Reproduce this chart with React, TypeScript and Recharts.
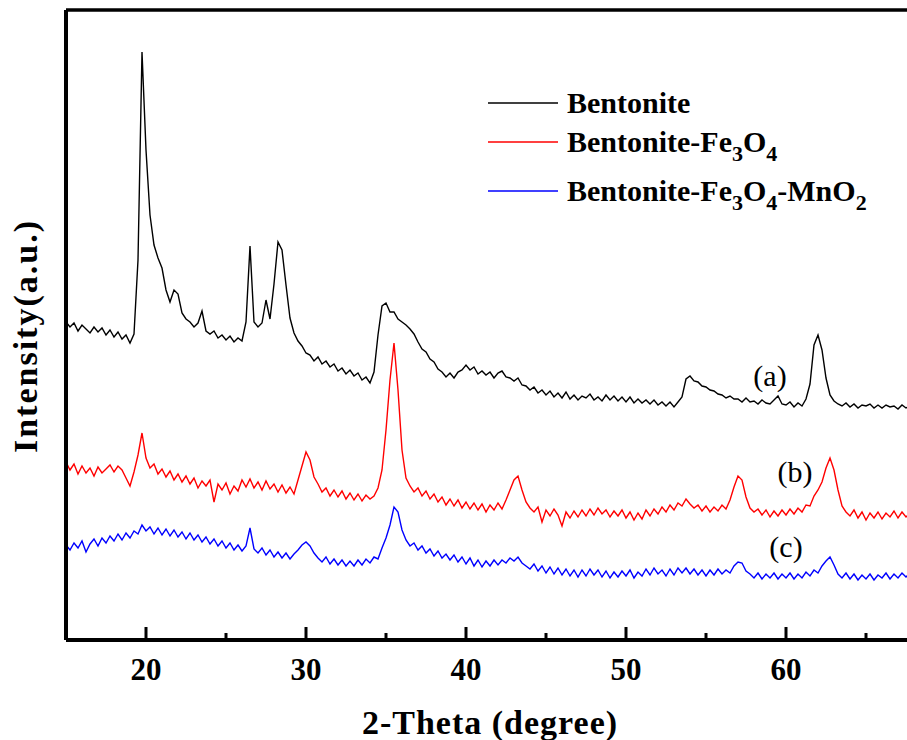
import { LineChart, Line, XAxis, YAxis, ReferenceDot } from "recharts";

// 2-theta scan positions (degree)
const THETA = [
  15, 15.25, 15.5, 15.75, 16, 16.25, 16.5, 16.75, 17, 17.25, 17.5, 17.75,
  18, 18.25, 18.5, 18.75, 19, 19.25, 19.5, 19.75, 20, 20.25, 20.5, 20.75,
  21, 21.25, 21.5, 21.75, 22, 22.25, 22.5, 22.75, 23, 23.25, 23.5, 23.75,
  24, 24.25, 24.5, 24.75, 25, 25.25, 25.5, 25.75, 26, 26.25, 26.5, 26.75,
  27, 27.25, 27.5, 27.75, 28, 28.25, 28.5, 28.75, 29, 29.25, 29.5, 29.75,
  30, 30.25, 30.5, 30.75, 31, 31.25, 31.5, 31.75, 32, 32.25, 32.5, 32.75,
  33, 33.25, 33.5, 33.75, 34, 34.25, 34.5, 34.75, 35, 35.25, 35.5, 35.75,
  36, 36.25, 36.5, 36.75, 37, 37.25, 37.5, 37.75, 38, 38.25, 38.5, 38.75,
  39, 39.25, 39.5, 39.75, 40, 40.25, 40.5, 40.75, 41, 41.25, 41.5, 41.75,
  42, 42.25, 42.5, 42.75, 43, 43.25, 43.5, 43.75, 44, 44.25, 44.5, 44.75,
  45, 45.25, 45.5, 45.75, 46, 46.25, 46.5, 46.75, 47, 47.25, 47.5, 47.75,
  48, 48.25, 48.5, 48.75, 49, 49.25, 49.5, 49.75, 50, 50.25, 50.5, 50.75,
  51, 51.25, 51.5, 51.75, 52, 52.25, 52.5, 52.75, 53, 53.25, 53.5, 53.75,
  54, 54.25, 54.5, 54.75, 55, 55.25, 55.5, 55.75, 56, 56.25, 56.5, 56.75,
  57, 57.25, 57.5, 57.75, 58, 58.25, 58.5, 58.75, 59, 59.25, 59.5, 59.75,
  60, 60.25, 60.5, 60.75, 61, 61.25, 61.5, 61.75, 62, 62.25, 62.5, 62.75,
  63, 63.25, 63.5, 63.75, 64, 64.25, 64.5, 64.75, 65, 65.25, 65.5, 65.75,
  66, 66.25, 66.5, 66.75, 67, 67.25, 67.5, 67.75, 68,
];

// (a) Bentonite
const BENTONITE = [
  318, 313, 317, 309, 315, 311, 307, 313, 308, 312, 305, 310,
  303, 308, 301, 305, 297, 306, 380, 588, 490, 425, 395, 382,
  372, 350, 338, 350, 346, 327, 321, 318, 313, 317, 329, 309,
  306, 309, 302, 305, 300, 304, 298, 302, 299, 318, 394, 318,
  313, 317, 340, 321, 356, 398, 390, 355, 322, 307, 299, 294,
  287, 285, 279, 283, 276, 279, 273, 276, 269, 272, 266, 270,
  264, 267, 260, 263, 257, 268, 305, 334, 337, 328, 328, 321,
  318, 315, 311, 306, 298, 291, 288, 281, 278, 271, 268, 263,
  267, 262, 268, 270, 275, 270, 273, 266, 269, 265, 268, 262,
  267, 269, 263, 262, 259, 262, 255, 254, 250, 253, 247, 250,
  245, 249, 243, 247, 242, 248, 241, 245, 240, 244, 242, 246,
  240, 243, 239, 245, 240, 244, 239, 243, 238, 243, 237, 241,
  237, 240, 236, 240, 235, 238, 234, 238, 233, 238, 243, 261,
  264, 259, 258, 254, 253, 250, 249, 246, 245, 242, 244, 241,
  241, 238, 242, 238, 239, 236, 240, 237, 236, 240, 244, 236,
  235, 238, 233, 237, 234, 241, 256, 295, 305, 290, 262, 245,
  239, 236, 234, 237, 233, 236, 232, 235, 234, 236, 232, 235,
  232, 235, 233, 234, 231, 235, 232, 234, 233,
];

// (b) Bentonite-Fe3O4
const BENT_FE3O4 = [
  178, 170, 176, 166, 174, 167, 172, 164, 173, 167, 171, 175,
  168, 174, 170, 162, 154, 168, 185, 207, 182, 172, 176, 166,
  171, 163, 169, 160, 166, 158, 164, 156, 162, 152, 159, 154,
  160, 138, 156, 150, 157, 146, 154, 149, 160, 153, 161, 152,
  158, 150, 159, 151, 156, 148, 155, 147, 153, 146, 160, 174,
  188, 180, 163, 156, 148, 152, 144, 150, 143, 149, 141, 147,
  140, 146, 139, 145, 141, 144, 152, 170, 210, 260, 297, 250,
  190, 162, 154, 148, 152, 144, 149, 141, 146, 138, 143, 135,
  141, 134, 140, 132, 138, 131, 137, 130, 136, 128, 135, 130,
  137, 131, 140, 150, 160, 164, 150, 138, 132, 128, 133, 118,
  130, 124, 131, 125, 114, 128, 122, 129, 123, 130, 124, 131,
  125, 132, 126, 130, 123, 129, 124, 130, 122, 128, 120, 127,
  121, 130, 124, 131, 126, 133, 128, 135, 130, 137, 134, 141,
  136, 132, 135, 129, 134, 128, 133, 129, 135, 131, 140, 153,
  164, 160, 143, 132, 128, 131, 125, 130, 123, 129, 124, 130,
  125, 131, 126, 132, 128, 135, 134, 144, 150, 158, 172, 182,
  170, 150, 134, 128, 124, 130, 122, 128, 120, 127, 122, 128,
  121, 127, 123, 129, 122, 128, 123, 127, 124,
];

// (c) Bentonite-Fe3O4-MnO2
const BENT_FE3O4_MNO2 = [
  95, 90, 97, 92, 99, 88, 96, 101, 94, 102, 97, 104,
  99, 106, 100, 107, 102, 109, 106, 115, 109, 113, 106, 112,
  105, 111, 104, 110, 103, 108, 101, 107, 100, 105, 98, 103,
  96, 101, 94, 99, 92, 97, 90, 95, 89, 94, 112, 91,
  87, 92, 85, 90, 83, 88, 82, 87, 81, 86, 90, 95,
  98, 94, 87, 82, 78, 83, 76, 81, 75, 80, 74, 79,
  74, 80, 75, 81, 77, 83, 81, 92, 102, 115, 133, 128,
  110, 100, 94, 97, 90, 94, 87, 91, 84, 89, 82, 86,
  80, 85, 78, 83, 76, 82, 74, 80, 73, 79, 74, 80,
  75, 80, 77, 82, 79, 83, 77, 74, 71, 76, 69, 74,
  67, 73, 66, 72, 65, 71, 64, 70, 63, 70, 64, 71,
  65, 70, 63, 69, 62, 68, 63, 69, 64, 70, 62, 68,
  64, 71, 65, 72, 66, 70, 64, 71, 65, 72, 67, 72,
  66, 71, 65, 70, 64, 70, 65, 71, 66, 70, 67, 74,
  78, 77, 69, 66, 62, 67, 61, 66, 62, 67, 61, 66,
  62, 67, 61, 66, 62, 68, 64, 70, 67, 74, 79, 83,
  75, 66, 62, 67, 61, 66, 60, 65, 61, 66, 60, 65,
  62, 67, 61, 66, 62, 67, 63, 67, 63,
];

const X_TICKS = [20, 25, 30, 35, 40, 45, 50, 55, 60, 65];
const LABELED_TICKS = [20, 30, 40, 50, 60];

const SERIES = [
  { key: "a", name: "Bentonite", color: "#000000", values: BENTONITE },
  { key: "b", name: "Bentonite-Fe3O4", color: "#ff0000", values: BENT_FE3O4 },
  { key: "c", name: "Bentonite-Fe3O4-MnO2", color: "#0000ff", values: BENT_FE3O4_MNO2 },
];

const rows = THETA.map((t, i) => ({
  theta: t,
  a: BENTONITE[i],
  b: BENT_FE3O4[i],
  c: BENT_FE3O4_MNO2[i],
}));

const FONT = "'Liberation Serif', 'Times New Roman', serif";

function XTick({ x, y, payload }: any) {
  const major = LABELED_TICKS.includes(payload.value);
  return (
    <g>
      <line x1={x} x2={x} y1={y} y2={y - (major ? 13 : 7)} stroke="#000" strokeWidth={3} />
      {major && (
        <text x={x} y={y + 40} textAnchor="middle" fontFamily={FONT} fontWeight="bold" fontSize={31} fill="#000">
          {payload.value}
        </text>
      )}
    </g>
  );
}

function SubName({ text }: { text: string }) {
  // digits in the formulas become subscripts
  const parts = text.split(/(\d)/).filter((p) => p !== "");
  let down = false;
  return (
    <>
      {parts.map((p, i) => {
        const isNum = /\d/.test(p);
        const dy = isNum && !down ? 9 : !isNum && down ? -9 : 0;
        down = isNum;
        return (
          <tspan key={i} dy={dy} fontSize={isNum ? 22 : 30}>
            {p}
          </tspan>
        );
      })}
    </>
  );
}

function Overlay() {
  const lineYs = [103, 142, 191];
  return (
    <svg width={907} height={740} style={{ position: "absolute", left: 0, top: 0, pointerEvents: "none" }}>
      <text transform="translate(37,336) rotate(-90)" textAnchor="middle" fontFamily={FONT} fontWeight="bold" fontSize={34} letterSpacing={2} fill="#000">
        Intensity(a.u.)
      </text>
      {SERIES.map((s, i) => (
        <g key={s.key}>
          <line x1={488} x2={558} y1={lineYs[i]} y2={lineYs[i]} stroke={s.color} strokeWidth={1.5} />
          <text x={567} y={lineYs[i] + 10} fontFamily={FONT} fontWeight="bold" fontSize={30} fill="#000">
            <SubName text={s.name} />
          </text>
        </g>
      ))}
    </svg>
  );
}

const curveLabel = (txt: string) => ({
  value: txt,
  position: "center" as const,
  fontFamily: FONT,
  fontSize: 30,
  fill: "#000",
});

export default function App() {
  return (
    <div style={{ position: "fixed", left: 0, top: 0, width: 907, height: 740, overflow: "hidden", background: "#fff" }}>
      <LineChart width={960} height={740} data={rows} margin={{ top: 8, right: 14, bottom: 0, left: 64 }}>
        <XAxis
          dataKey="theta"
          type="number"
          domain={[15, 70]}
          ticks={X_TICKS}
          height={100}
          tickSize={0}
          tickMargin={0}
          tickLine={false}
          tick={<XTick />}
          axisLine={{ stroke: "#000", strokeWidth: 4 }}
          label={{
            content: () => (
              <text x={490} y={734} textAnchor="middle" fontFamily={FONT} fontWeight="bold" fontSize={34} letterSpacing={1} fill="#000">
                2-Theta (degree)
              </text>
            ),
          }}
        />
        <XAxis
          xAxisId="top"
          orientation="top"
          dataKey="theta"
          type="number"
          domain={[15, 70]}
          height={2}
          tick={false}
          tickLine={false}
          axisLine={{ stroke: "#000", strokeWidth: 3.5 }}
        />
        <YAxis
          domain={[0, 630]}
          width={2}
          tick={false}
          tickLine={false}
          axisLine={{ stroke: "#000", strokeWidth: 4 }}
        />
        {SERIES.map((s) => (
          <Line
            key={s.key}
            dataKey={s.key}
            name={s.name}
            stroke={s.color}
            strokeWidth={1.4}
            dot={false}
            type="linear"
            isAnimationActive={false}
          />
        ))}
        <ReferenceDot x={59} y={265} r={0} label={curveLabel("(a)")} />
        <ReferenceDot x={60.56} y={169} r={0} label={curveLabel("(b)")} />
        <ReferenceDot x={60} y={94} r={0} label={curveLabel("(c)")} />
      </LineChart>
      <Overlay />
    </div>
  );
}
